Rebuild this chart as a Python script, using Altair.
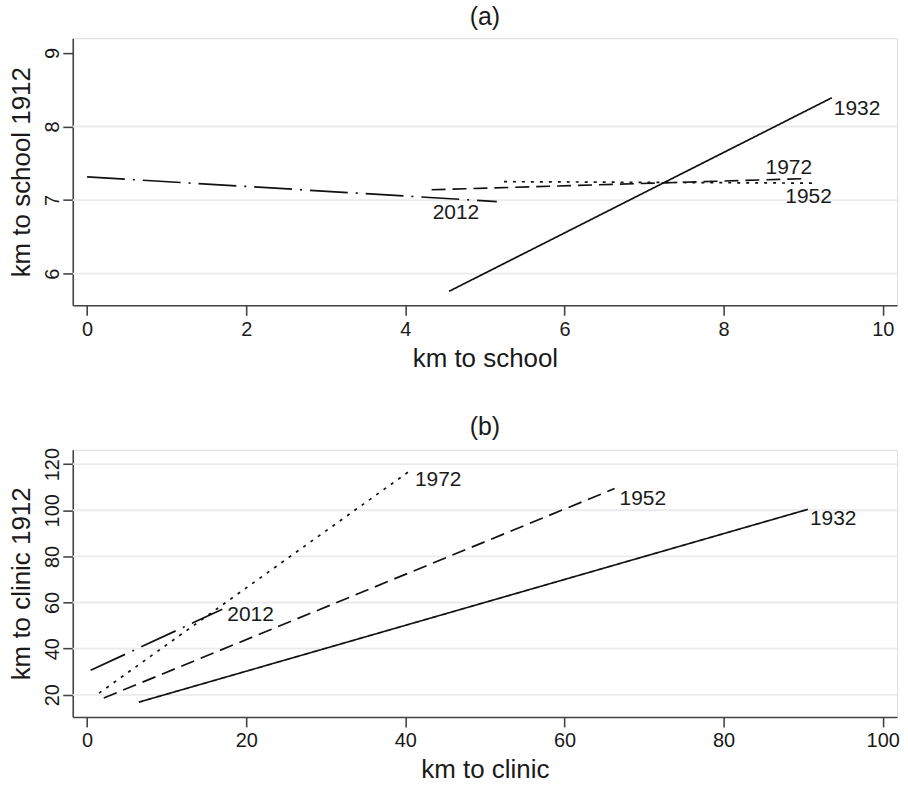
import altair as alt
import pandas as pd

FONT = "Liberation Sans"

years = ["1932", "1952", "1972", "2012"]
dash_styles = [[1, 0], [14, 7], [3, 6], [38, 8, 2, 8]]

# Panel (a): km to school
school_x_start = [4.55, 4.33, 5.24, 0.0]
school_y_start = [5.76, 7.14, 7.25, 7.315]
school_x_end = [9.36, 8.98, 9.12, 5.15]
school_y_end = [8.39, 7.29, 7.23, 6.98]
school_ticks_x = [0, 2, 4, 6, 8, 10]
school_ticks_y = [6, 7, 8, 9]
school_grid_y = [6, 7, 8]

# Panel (b): km to clinic
clinic_x_start = [6.5, 2.1, 1.5, 0.45]
clinic_y_start = [16.8, 18.6, 20.7, 30.6]
clinic_x_end = [90.6, 66.3, 40.7, 17.0]
clinic_y_end = [100.4, 109.4, 117.4, 57.1]
clinic_ticks_x = [0, 20, 40, 60, 80, 100]
clinic_ticks_y = [20, 40, 60, 80, 100, 120]
clinic_grid_y = [20, 40, 60, 80, 100, 120]

# label placement (pixel offsets from each line's end point)
school_label_dx = [2, 7, -24, -41]
school_label_dy = [11, 18, -15, 12]
school_label_align = ["left", "center", "center", "center"]
clinic_label_dx = [2, 5, 4, 5]
clinic_label_dy = [10, 10, 10, 6]
clinic_label_align = ["left", "left", "left", "left"]

W, H = 827, 268
AX = dict(
    grid=False, tickSize=10, labelFontSize=20, titleFontSize=26,
    labelFont=FONT, titleFont=FONT, titleFontWeight="normal",
    domainColor="#444444", tickColor="#444444", domainWidth=1.6, tickWidth=1.6,
    labelColor="#1a1a1a", titleColor="#1a1a1a", labelFlush=False,
    labelOverlap=False, format="d",
)


def panel(title, xs, ys, xe, ye, xdom, ydom, xt, yt, grid, xtitle, ytitle,
          ldx, ldy, lalign):
    rows = []
    for i, yr in enumerate(years):
        rows.append({"year": yr, "x": xs[i], "y": ys[i], "o": 0})
        rows.append({"year": yr, "x": xe[i], "y": ye[i], "o": 1})
    df = pd.DataFrame(rows)

    xenc = alt.X("x:Q", scale=alt.Scale(domain=xdom, nice=False, zero=False),
                 axis=alt.Axis(values=xt, title=xtitle, labelPadding=4,
                               titlePadding=6, **AX))
    yenc = alt.Y("y:Q", scale=alt.Scale(domain=ydom, nice=False, zero=False),
                 axis=alt.Axis(values=yt, title=ytitle, labelAngle=270,
                               labelAlign="center", labelBaseline="alphabetic",
                               labelPadding=4, titlePadding=8, **AX))

    gridl = alt.Chart(pd.DataFrame({"y": grid})).mark_rule(
        color="#ebebeb", strokeWidth=1.8).encode(y=yenc)

    lines = alt.Chart(df).mark_line(color="#111111", strokeWidth=1.7).encode(
        x=xenc, y=yenc, order="o:Q",
        strokeDash=alt.StrokeDash("year:N", scale=alt.Scale(domain=years, range=dash_styles),
                                  legend=None),
        detail="year:N",
    )

    layers = [gridl, lines]
    for i, yr in enumerate(years):
        ldf = pd.DataFrame({"x": [xe[i]], "y": [ye[i]], "t": [yr]})
        layers.append(alt.Chart(ldf).mark_text(
            font=FONT, fontSize=21, color="#1a1a1a", align=lalign[i],
            baseline="middle", dx=ldx[i], dy=ldy[i]).encode(x=xenc, y=yenc, text="t:N"))

    return alt.layer(*layers).properties(
        width=W, height=H,
        title=alt.TitleParams(text=title, font=FONT, fontSize=25, fontWeight="normal",
                              color="#1a1a1a", anchor="middle", frame="group", offset=8),
    )


top = panel("(a)", school_x_start, school_y_start, school_x_end, school_y_end,
            [-0.18, 10.18], [5.57, 9.2], school_ticks_x, school_ticks_y, school_grid_y,
            "km to school", "km to school 1912",
            school_label_dx, school_label_dy, school_label_align)
bottom = panel("(b)", clinic_x_start, clinic_y_start, clinic_x_end, clinic_y_end,
               [-1.8, 101.8], [10.4, 126.2], clinic_ticks_x, clinic_ticks_y, clinic_grid_y,
               "km to clinic", "km to clinic 1912",
               clinic_label_dx, clinic_label_dy, clinic_label_align)

chart = alt.vconcat(top, bottom, spacing=42).properties(
    padding={"left": 8, "top": 3, "right": 8, "bottom": 4}
).configure_view(stroke=None).configure(background="white")

chart.save("out.html", embed_options={"renderer": "svg", "actions": False})
